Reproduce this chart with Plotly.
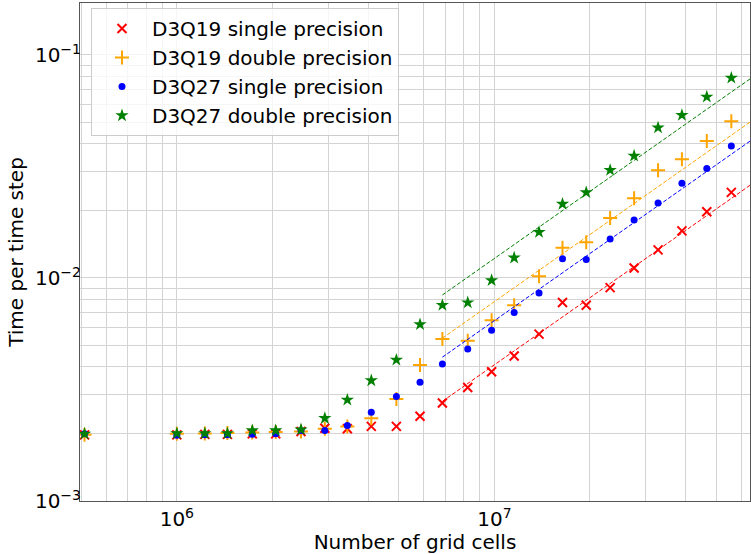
import numpy as np
import plotly.graph_objects as go

# Problem sizes: total number of lattice cells (cubic domains)
cells = [512000, 1000000, 1225043, 1442897, 1728000, 2048383, 2460375, 2924207,
         3442951, 4096000, 4913000, 5832000, 6859000, 8242408, 9800344,
         11543176, 13824000, 16387064, 19465109, 23149125, 27543608,
         32768000, 38958219, 46656000, 55742968]

# Wall-clock time per time step [s]
d3q19_single = [1.98e-3, 1.98e-3, 1.99e-3, 1.99e-3, 2.00e-3, 2.00e-3, 2.05e-3, 2.12e-3,
                2.11e-3, 2.16e-3, 2.16e-3, 2.40e-3, 2.75e-3, 3.23e-3, 3.80e-3,
                4.47e-3, 5.60e-3, 7.76e-3, 7.55e-3, 9.05e-3, 1.108e-2,
                1.337e-2, 1.626e-2, 1.983e-2, 2.42e-2]
d3q19_double = [1.98e-3, 2.00e-3, 2.01e-3, 2.02e-3, 2.03e-3, 2.04e-3, 2.05e-3, 2.11e-3,
                2.16e-3, 2.35e-3, 2.87e-3, 4.07e-3, 5.32e-3, 5.23e-3, 6.47e-3,
                7.55e-3, 1.017e-2, 1.366e-2, 1.448e-2, 1.858e-2, 2.275e-2,
                3.045e-2, 3.41e-2, 4.11e-2, 5.05e-2]
d3q27_single = [2.00e-3, 1.97e-3, 1.98e-3, 1.98e-3, 1.99e-3, 2.00e-3, 2.07e-3, 2.07e-3,
                2.18e-3, 2.50e-3, 2.94e-3, 3.41e-3, 4.11e-3, 4.80e-3, 5.83e-3,
                7.00e-3, 8.57e-3, 1.220e-2, 1.211e-2, 1.497e-2, 1.82e-2,
                2.17e-2, 2.66e-2, 3.10e-2, 3.91e-2]
d3q27_double = [2.00e-3, 2.01e-3, 2.01e-3, 2.01e-3, 2.07e-3, 2.07e-3, 2.09e-3, 2.35e-3,
                2.84e-3, 3.47e-3, 4.29e-3, 6.19e-3, 7.55e-3, 7.76e-3, 9.76e-3,
                1.232e-2, 1.605e-2, 2.146e-2, 2.42e-2, 3.045e-2, 3.53e-2,
                4.72e-2, 5.37e-2, 6.49e-2, 7.89e-2]

labels = ["D3Q19 single precision", "D3Q19 double precision",
          "D3Q27 single precision", "D3Q27 double precision"]
colors = ["red", "orange", "blue", "green"]
series = [d3q19_single, d3q19_double, d3q27_single, d3q27_double]

x_ticks = [1e6, 1e7]
x_ticktext = ["10<sup>6</sup>", "10<sup>7</sup>"]
y_ticks = [1e-3, 1e-2, 1e-1]
y_ticktext = ["10<sup>\u22123</sup>", "10<sup>\u22122</sup>", "10<sup>\u22121</sup>"]

FIT_START = 12          # index of the first size used in the linear-scaling fit
FIT_END = 1e8           # the fitted line is extended past the plotted range
X_RANGE = [5.695, 7.805]
Y_RANGE = [-3.0, -0.767]

markers = [
    dict(symbol="x-thin-open", size=9, line=dict(width=2, color="red")),
    dict(symbol="cross-thin-open", size=10, line=dict(width=2, color="orange")),
    dict(symbol="circle", size=7, line=dict(width=0)),
    dict(symbol="star", size=10, line=dict(width=0)),
]

fig = go.Figure()

for i, (name, col, ys) in enumerate(zip(labels, colors, series)):
    fig.add_trace(go.Scatter(
        x=cells, y=ys, mode="markers", name=name,
        marker=dict(color=col, **markers[i]),
        legendgroup=name, cliponaxis=True,
    ))

# Linear scaling fits t = c * N (slope one in log-log), from the large sizes
for name, col, ys in zip(labels, colors, series):
    n = np.array(cells[FIT_START:], dtype=float)
    t = np.array(ys[FIT_START:], dtype=float)
    b = np.mean(np.log10(t) - np.log10(n))
    xf = np.array([n[0], FIT_END])
    yf = 10 ** (np.log10(xf) + b)
    fig.add_trace(go.Scatter(
        x=xf, y=yf, mode="lines", showlegend=False,
        line=dict(color=col, width=1, dash="4px,2px"),
    ))

grid = "#d3d3d3"
axis_common = dict(
    type="log", showline=True, linecolor="#555555", linewidth=1, mirror=True,
    showgrid=True, gridcolor=grid, gridwidth=1, zeroline=False,
    ticks="",
    tickfont=dict(family="DejaVu Sans", size=20, color="black"),
    minor=dict(dtick="D1", showgrid=True, gridcolor=grid, ticks=""),
)

fig.update_xaxes(
    **axis_common, range=X_RANGE, tickvals=x_ticks, ticktext=x_ticktext,
    title=dict(text="Number of grid cells", standoff=9,
               font=dict(family="DejaVu Sans", size=20, color="black")),
)
fig.update_yaxes(
    **axis_common, range=Y_RANGE, tickvals=y_ticks, ticktext=y_ticktext,
    ticklabelstandoff=-6,
    title=dict(text="Time per time step", standoff=5,
               font=dict(family="DejaVu Sans", size=20, color="black")),
)

fig.update_layout(
    width=751, height=554,
    margin=dict(l=80, r=0, t=3, b=50),
    paper_bgcolor="white", plot_bgcolor="white",
    font=dict(family="DejaVu Sans", size=20, color="black"),
    legend=dict(
        x=0.0164, y=0.99, xanchor="left", yanchor="top",
        bgcolor="rgba(255,255,255,0.8)", bordercolor="#cccccc", borderwidth=1,
        font=dict(family="DejaVu Sans", size=20, color="black"),
        tracegroupgap=0, itemwidth=50,
    ),
)

fig.write_html("out.html")
